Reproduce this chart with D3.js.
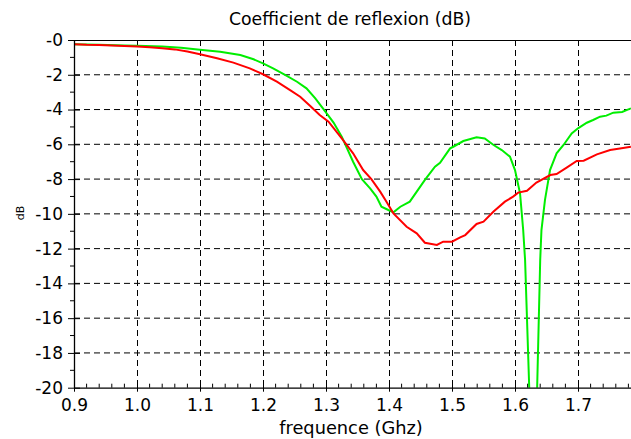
<!DOCTYPE html>
<html><head><meta charset="utf-8">
<script src="https://cdn.jsdelivr.net/npm/d3@7"></script>
<style>body{margin:0;background:#fff}svg{display:block}</style>
</head><body>
<svg id="c" width="631" height="439"></svg>
<script>
const freqRed = [0.900,0.920,0.940,0.960,0.980,1.000,1.020,1.040,1.060,1.080,1.100,1.127,1.153,1.179,1.200,1.222,1.243,1.259,1.275,1.290,1.304,1.325,1.343,1.359,1.372,1.386,1.396,1.407,1.428,1.444,1.457,1.476,1.486,1.500,1.513,1.521,1.539,1.550,1.566,1.584,1.597,1.605,1.619,1.634,1.656,1.666,1.682,1.698,1.709,1.730,1.751,1.769,1.784];
const s11Red  = [-0.25,-0.28,-0.29,-0.32,-0.34,-0.38,-0.42,-0.47,-0.54,-0.66,-0.82,-1.05,-1.30,-1.63,-1.97,-2.40,-2.88,-3.26,-3.80,-4.31,-4.70,-5.66,-6.52,-7.48,-8.00,-8.72,-9.30,-9.97,-10.74,-11.12,-11.66,-11.79,-11.60,-11.60,-11.35,-11.22,-10.58,-10.45,-9.87,-9.30,-9.01,-8.78,-8.67,-8.20,-7.77,-7.71,-7.34,-6.96,-6.94,-6.58,-6.33,-6.23,-6.14];
const freqGreen = [0.900,0.940,0.980,1.000,1.040,1.070,1.100,1.132,1.164,1.185,1.200,1.216,1.235,1.254,1.269,1.283,1.296,1.312,1.325,1.343,1.357,1.370,1.380,1.388,1.399,1.407,1.418,1.433,1.457,1.473,1.481,1.497,1.502,1.518,1.539,1.552,1.566,1.579,1.592,1.600,1.608,1.613,1.616,1.6235,1.629,1.6345,1.640,1.642,1.6476,1.6556,1.666,1.677,1.690,1.700,1.714,1.724,1.735,1.745,1.756,1.770,1.784];
const s11Green  = [-0.25,-0.28,-0.31,-0.33,-0.38,-0.44,-0.56,-0.67,-0.86,-1.11,-1.34,-1.63,-2.00,-2.40,-2.78,-3.36,-3.97,-4.75,-5.56,-7.00,-8.00,-8.53,-9.01,-9.59,-9.78,-9.91,-9.59,-9.30,-8.05,-7.29,-7.06,-6.23,-6.14,-5.81,-5.60,-5.66,-6.04,-6.33,-6.71,-7.48,-8.82,-10.93,-12.65,-21.0,-26.0,-21.0,-12.65,-10.93,-9.20,-7.48,-6.52,-6.04,-5.37,-5.08,-4.76,-4.60,-4.41,-4.35,-4.18,-4.14,-3.93];
const xTicks = [0.9,1.0,1.1,1.2,1.3,1.4,1.5,1.6,1.7];
const yTicks = [0,-2,-4,-6,-8,-10,-12,-14,-16,-18,-20];
const yTickLabels = ["-0","-2","-4","-6","-8","-10","-12","-14","-16","-18","-20"];
const titleText = "Coefficient de reflexion (dB)";
const xLabel = "frequence (Ghz)";
const yLabel = "dB";

const svg = d3.select("#c");
const L = 74, R = 631, T = 40, B = 387.7;
const x = d3.scaleLinear().domain([0.9, 0.9 + (R - L) / 630]).range([L, R]);
const y = d3.scaleLinear().domain([0, -20]).range([T, B]);
const font = "DejaVu Sans, sans-serif";

// grid
const g = svg.append("g");
g.selectAll("line.vg").data(xTicks.slice(1)).enter().append("line")
  .attr("x1", d => Math.round(x(d)) + 0.5).attr("x2", d => Math.round(x(d)) + 0.5)
  .attr("y1", T).attr("y2", B)
  .attr("stroke", "#000").attr("stroke-width", 1).attr("stroke-dasharray", "6,4");
g.selectAll("line.hg").data(yTicks.slice(1, -1)).enter().append("line")
  .attr("x1", L).attr("x2", R).attr("y1", d => y(d)).attr("y2", d => y(d))
  .attr("stroke", "#000").attr("stroke-width", 1).attr("stroke-dasharray", "6,4");

// curves
const clip = svg.append("clipPath").attr("id", "cp").append("rect")
  .attr("x", L).attr("y", T).attr("width", R - L).attr("height", B - T);
const line = d3.line().x(d => x(d[0])).y(d => y(d[1]));
const plot = svg.append("g").attr("clip-path", "url(#cp)");
plot.append("path").datum(freqGreen.map((f, i) => [f, s11Green[i]]))
  .attr("d", line).attr("fill", "none").attr("stroke", "#00ee00").attr("stroke-width", 2);
plot.append("path").datum(freqRed.map((f, i) => [f, s11Red[i]]))
  .attr("d", line).attr("fill", "none").attr("stroke", "#ff0000").attr("stroke-width", 2);

// top border
svg.append("line").attr("x1", L).attr("x2", R).attr("y1", T + 0.5).attr("y2", T + 0.5)
  .attr("stroke", "#000").attr("stroke-width", 1);

// axes
const xAxis = svg.append("g").attr("transform", `translate(0,${B})`)
  .call(d3.axisBottom(x).tickValues(xTicks).tickFormat(d3.format(".1f")).tickSize(4).tickSizeOuter(0));
xAxis.select(".domain").attr("stroke-width", 1.3);
xAxis.selectAll(".tick line").attr("y1", -4);
xAxis.selectAll(".tick text").attr("font-family", font).attr("font-size", 17).attr("fill", "#000").attr("dy", "0.95em");
const xMinor = d3.range(0.92, 1.79, 0.02).filter(v => Math.abs(v * 10 - Math.round(v * 10)) > 0.01);
svg.append("g").selectAll("line").data(xMinor).enter().append("line")
  .attr("x1", d => x(d)).attr("x2", d => x(d)).attr("y1", B).attr("y2", B - 4)
  .attr("stroke", "#000").attr("stroke-width", 1);

const yAxis = svg.append("g").attr("transform", `translate(${L},0)`)
  .call(d3.axisLeft(y).tickValues(yTicks).tickFormat((d, i) => yTickLabels[i]).tickSize(6).tickSizeOuter(0));
yAxis.select(".domain").attr("stroke-width", 1.3);
yAxis.selectAll(".tick line").attr("x1", 6);
yAxis.selectAll(".tick text").attr("font-family", font).attr("font-size", 17).attr("fill", "#000").attr("x", -11);
const yMinor = d3.range(-1, -20, -2);
svg.append("g").selectAll("line").data(yMinor).enter().append("line")
  .attr("x1", L - 4).attr("x2", L).attr("y1", d => y(d)).attr("y2", d => y(d))
  .attr("stroke", "#000").attr("stroke-width", 1);

// labels
svg.append("text").attr("x", 350).attr("y", 25).attr("text-anchor", "middle")
  .attr("font-family", font).attr("font-size", 17.3).text(titleText);
svg.append("text").attr("x", 351).attr("y", 434).attr("text-anchor", "middle")
  .attr("font-family", font).attr("font-size", 17.8).text(xLabel);
svg.append("text").attr("transform", "translate(24,213) rotate(-90)").attr("text-anchor", "middle")
  .attr("font-family", font).attr("font-size", 11).text(yLabel);
</script>
</body></html>
